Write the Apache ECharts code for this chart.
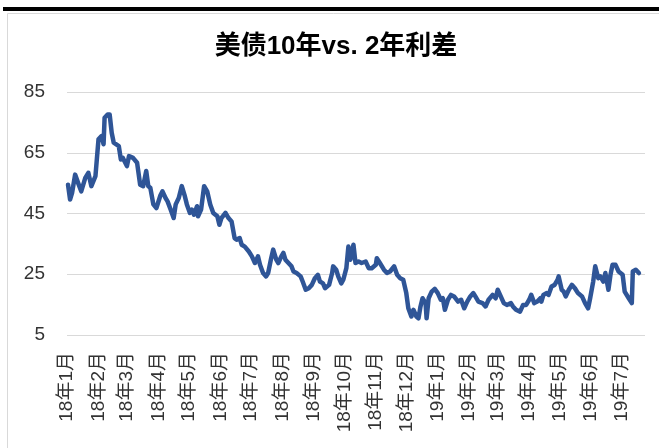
<!DOCTYPE html>
<html>
<head>
<meta charset="utf-8">
<script src="https://cdn.jsdelivr.net/npm/echarts@6/dist/echarts.min.js"></script>
<style>
  html, body { margin: 0; padding: 0; background: #fff; }
  #chart { width: 659px; height: 448px; }
</style>
</head>
<body>
<div id="chart"></div>
<script>
// 月份刻度标签
const monthLabels = ['18年1月', '18年2月', '18年3月', '18年4月', '18年5月', '18年6月', '18年7月', '18年8月', '18年9月', '18年10月',
  '18年11月', '18年12月', '19年1月', '19年2月', '19年3月', '19年4月', '19年5月', '19年6月', '19年7月']

const yTicks = [5, 25, 45, 65, 85]

const chartTitle = '美债10年vs. 2年利差'

// 日期
const dates = [
  '2018-01-02', '2018-01-04', '2018-01-06', '2018-01-09', '2018-01-12', '2018-01-15', '2018-01-19', '2018-01-22', '2018-01-25', '2018-01-29', '2018-01-30',
  '2018-02-01', '2018-02-04', '2018-02-06', '2018-02-07', '2018-02-10', '2018-02-12', '2018-02-14', '2018-02-16', '2018-02-21', '2018-02-23', '2018-02-25',
  '2018-03-01', '2018-03-03', '2018-03-07', '2018-03-11', '2018-03-14', '2018-03-17', '2018-03-20', '2018-03-22', '2018-03-24', '2018-03-27', '2018-03-30',
  '2018-04-03', '2018-04-05', '2018-04-08', '2018-04-10', '2018-04-13', '2018-04-16', '2018-04-18', '2018-04-21', '2018-04-24', '2018-04-27', '2018-04-29',
  '2018-05-02', '2018-05-04', '2018-05-06', '2018-05-09', '2018-05-10', '2018-05-13', '2018-05-16', '2018-05-19', '2018-05-22', '2018-05-25', '2018-05-29', '2018-05-31',
  '2018-06-02', '2018-06-06', '2018-06-09', '2018-06-12', '2018-06-15', '2018-06-17', '2018-06-20', '2018-06-22', '2018-06-25', '2018-06-29',
  '2018-07-02', '2018-07-05', '2018-07-08', '2018-07-10', '2018-07-13', '2018-07-16', '2018-07-18', '2018-07-21', '2018-07-23', '2018-07-26', '2018-07-28', '2018-07-31',
  '2018-08-02', '2018-08-04', '2018-08-07', '2018-08-10', '2018-08-12', '2018-08-15', '2018-08-19', '2018-08-21', '2018-08-24', '2018-08-27', '2018-08-30',
  '2018-09-02', '2018-09-05', '2018-09-07', '2018-09-10', '2018-09-12', '2018-09-16', '2018-09-19', '2018-09-20', '2018-09-23', '2018-09-25', '2018-09-28', '2018-09-30',
  '2018-10-03', '2018-10-05', '2018-10-07', '2018-10-10', '2018-10-12', '2018-10-15', '2018-10-18', '2018-10-22', '2018-10-25', '2018-10-28',
  '2018-11-01', '2018-11-02', '2018-11-05', '2018-11-09', '2018-11-12', '2018-11-15', '2018-11-19', '2018-11-22', '2018-11-25', '2018-11-28',
  '2018-12-01', '2018-12-03', '2018-12-06', '2018-12-08', '2018-12-11', '2018-12-13', '2018-12-15', '2018-12-17', '2018-12-20', '2018-12-21', '2018-12-23', '2018-12-26', '2018-12-29',
  '2019-01-01', '2019-01-04', '2019-01-06', '2019-01-08', '2019-01-11', '2019-01-14', '2019-01-17', '2019-01-21', '2019-01-24', '2019-01-27', '2019-01-30',
  '2019-02-02', '2019-02-05', '2019-02-07', '2019-02-10', '2019-02-14', '2019-02-17', '2019-02-20', '2019-02-24', '2019-02-27',
  '2019-03-01', '2019-03-04', '2019-03-07', '2019-03-10', '2019-03-14', '2019-03-16', '2019-03-19', '2019-03-23', '2019-03-26', '2019-03-29',
  '2019-04-01', '2019-04-03', '2019-04-06', '2019-04-09', '2019-04-12', '2019-04-13', '2019-04-15', '2019-04-18', '2019-04-20', '2019-04-23', '2019-04-26', '2019-04-29', '2019-04-30',
  '2019-05-03', '2019-05-05', '2019-05-07', '2019-05-10', '2019-05-13', '2019-05-16', '2019-05-19', '2019-05-23', '2019-05-26', '2019-05-29', '2019-05-31',
  '2019-06-03', '2019-06-05', '2019-06-08', '2019-06-10', '2019-06-13', '2019-06-15', '2019-06-18', '2019-06-20', '2019-06-22', '2019-06-25', '2019-06-28',
  '2019-07-02', '2019-07-04', '2019-07-08', '2019-07-11', '2019-07-12', '2019-07-15', '2019-07-18'
]

// 10年-2年利差（bp）
const spread = [
  54.5, 49.6, 51.8, 57.8, 55, 52.3, 56.7, 58.4, 54, 57.3, 57.8,
  69.4, 70.5, 67.8, 76.5, 77.6, 77.6, 71.6, 68.3, 67.2, 62.8, 63.3,
  60.6, 63.9, 63.3, 61.7, 54.5, 54, 59, 54, 53.5, 48, 46.8,
  51, 52.3, 50.1, 49, 46.3, 43.5, 48, 50.1, 54, 50.7, 48,
  45.2, 46.3, 44.6, 47.4, 44.1, 46.3, 54, 52.3, 48, 45.2, 44.1, 41.3,
  43.5, 45.2, 43.5, 42.4, 36.9, 36.4, 36.9, 34.7, 34.1, 32.5,
  30.9, 28.7, 30.9, 28.1, 25.4, 24.3, 25.4, 30.3, 33.1, 29.8, 28.7, 30.9,
  32, 29.8, 28.7, 27.6, 25.9, 25.4, 24.3, 22.6, 19.9, 20.4, 21.5,
  23.7, 24.8, 22.6, 22, 20.4, 21.5, 25.4, 27.6, 26.5, 24.3, 22, 23.2,
  27, 34.1, 29.8, 34.7, 28.7, 29.2, 28.7, 29.2, 27, 27,
  28.1, 30.3, 28.7, 26.5, 25.4, 25.9, 27.6, 24.8, 23.7, 23.2,
  18.8, 13.8, 11.1, 13.3, 11.1, 10.5, 14.4, 17.1, 15.5, 10.5, 17.1, 19.3, 20.2,
  18.8, 16.6, 17.1, 13.3, 16.6, 18.2, 17.7, 16, 16.6, 13.8, 16,
  17.7, 18.8, 17.7, 16, 15.5, 14.4, 16.6, 18.2, 17.1,
  19.9, 17.7, 15.5, 14.9, 15.5, 14.4, 13.3, 12.7, 14.9, 14.9,
  16.6, 18.2, 15.5, 16, 17.1, 16, 18.2, 18.8, 18.2, 21, 21.5, 23.2, 24.3,
  19.9, 19.3, 17.7, 19.9, 21.5, 20.4, 18.8, 17.7, 15.5, 13.8, 17.1,
  22.6, 27.6, 23.7, 24.3, 22.6, 25.4, 19.9, 24.8, 28.1, 28.1, 25.9,
  24.8, 19.3, 17.1, 15.5, 25.9, 26.5, 25.4
]

const fontFamily = '"Liberation Sans", "Noto Sans CJK SC", sans-serif'

const toTime = s => {
  const p = s.split('-').map(Number)
  return new Date(p[0], p[1] - 1, p[2]).getTime()
}

// 每个月1号的时间戳，用来放月份标签
const monthStarts = monthLabels.map(s => {
  const m = s.match(/(\d+)年(\d+)月/)
  return new Date(2000 + Number(m[1]), Number(m[2]) - 1, 1).getTime()
})
const labelByTime = {}
monthStarts.forEach((t, i) => { labelByTime[t] = monthLabels[i] })

const chart = echarts.init(document.getElementById('chart'))
const option = {
  animation: false,
  graphic: [
    // 外边框
    { type: 'rect', shape: { x: 7.5, y: 13.5, width: 700, height: 500 }, style: { fill: 'none', stroke: '#d9d9d9', lineWidth: 1 } },
    // 顶部黑线
    { type: 'rect', shape: { x: 3, y: 7, width: 660, height: 4 }, style: { fill: '#000' } },
    // 标题
    {
      type: 'text', x: 336, y: 34,
      style: { text: chartTitle, textAlign: 'center', fill: '#000', font: 'bold 26px ' + fontFamily }
    }
  ],
  grid: { left: 67, right: 14, top: 92, bottom: 113 },
  xAxis: {
    type: 'value',
    min: toTime('2018-01-01'),
    max: toTime('2019-07-24'),
    axisLine: { show: false },
    axisTick: { show: false },
    splitLine: { show: false },
    axisLabel: {
      customValues: monthStarts,
      rotate: 90,
      margin: 17,
      hideOverlap: false,
      fontFamily: fontFamily,
      fontSize: 19,
      color: '#333',
      formatter: v => labelByTime[v] || ''
    }
  },
  yAxis: {
    type: 'value',
    min: yTicks[0],
    max: yTicks[yTicks.length - 1],
    interval: 20,
    axisLine: { show: false },
    axisTick: { show: false },
    splitLine: { lineStyle: { color: '#d9d9d9', width: 1 } },
    axisLabel: { margin: 22, fontFamily: fontFamily, fontSize: 19, color: '#333' }
  },
  series: [
    {
      name: chartTitle,
      type: 'line',
      showSymbol: false,
      data: dates.map((d, i) => [toTime(d), spread[i]]),
      lineStyle: { color: '#2f5597', width: 4.5, join: 'round', cap: 'round' }
    }
  ]
}
chart.setOption(option)
</script>
</body>
</html>
